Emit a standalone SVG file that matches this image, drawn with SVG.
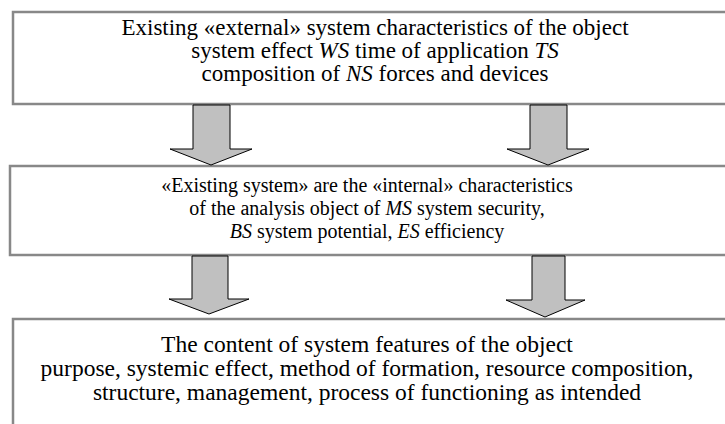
<svg xmlns="http://www.w3.org/2000/svg" width="725" height="424" viewBox="0 0 725 424">
<style>
.box{fill:#fff;stroke:#888;stroke-width:2.5}
.arr{fill:#c0c0c0;stroke:#000;stroke-width:1}
.t{font-family:'Liberation Serif','Times New Roman',Times,serif;fill:#000;text-anchor:middle}
.a{font-size:23px}
.b{font-size:20px}
.c{font-size:23.5px}
.i{font-style:italic}
</style>
<rect width="725" height="424" fill="#fff"/>
<g id="box1">
<rect class="box" x="13" y="12" width="720" height="92"/>
<text class="t a" x="375" y="35">Existing «external» system characteristics of the object</text>
<text class="t a" x="375" y="58">system effect <tspan class="i">WS</tspan> time of application <tspan class="i">TS</tspan></text>
<text class="t a" x="375" y="81">composition of <tspan class="i">NS</tspan> forces and devices</text>
</g>
<g id="box2">
<rect class="box" x="10" y="166" width="725" height="89"/>
<text class="t b" x="367" y="192">«Existing system» are the «internal» characteristics</text>
<text class="t b" x="367" y="215">of the analysis object of <tspan class="i">MS</tspan> system security,</text>
<text class="t b" x="367" y="238"><tspan class="i">BS</tspan> system potential, <tspan class="i">ES</tspan> efficiency</text>
</g>
<g id="box3">
<rect class="box" x="13" y="319" width="725" height="120"/>
<text class="t c" x="367" y="352">The content of system features of the object</text>
<text class="t c" x="367" y="376">purpose, systemic effect, method of formation, resource composition,</text>
<text class="t c" x="367" y="400">structure, management, process of functioning as intended</text>
</g>
<g id="connectors">
<polygon class="arr" points="193,105 230,105 230,149 252,149 211,165 170,149 193,149"/>
<polygon class="arr" points="530,105 567,105 567,149 589,149 548,165 507,149 530,149"/>
<polygon class="arr" points="192,256 228,256 228,299 249,299 209,314 169,299 192,299"/>
<polygon class="arr" points="532,256 565,256 565,300 585,300 545,317 506,300 532,300"/>
</g>
</svg>
